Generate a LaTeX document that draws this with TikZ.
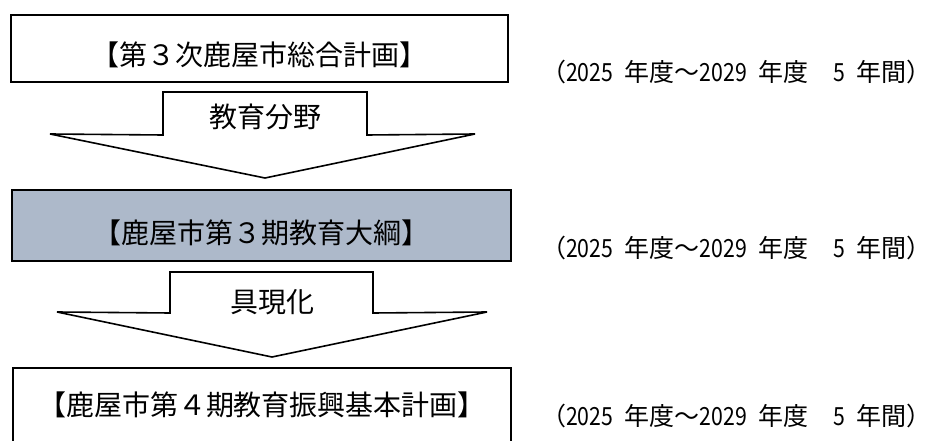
\documentclass[tikz,border=0pt]{standalone}
\usepackage{fontspec}
\setmainfont{Noto Sans CJK JP}
\newfontfamily\narrowdigits[FakeStretch=0.85]{Noto Sans CJK JP}
\definecolor{boxfill}{HTML}{ADB9CA}
\begin{document}
\begin{tikzpicture}[x=1pt,y=-1pt,
  frame/.style={draw=black, line width=2pt, inner sep=0pt},
  blockarrow/.style={draw=black, line width=1.6pt, fill=white, line join=miter},
  maintext/.style={inner sep=0pt, font=\fontsize{28}{30}\selectfont},
  arrowtext/.style={inner sep=0pt, font=\fontsize{28}{30}\selectfont},
  periodtext/.style={inner sep=0pt, anchor=west, font=\fontsize{25}{28}\selectfont},
]
\useasboundingbox (0,0) rectangle (930,441);
\begin{scope}
\clip (0,0) rectangle (930,441);
% boxes
\draw[frame] (11,15) rectangle (508,82);
\node[maintext] (t1) at (259.5,55) {【第３次鹿屋市総合計画】};
\draw[frame, fill=boxfill] (12,190) rectangle (511,261);
\node[maintext] (t2) at (261.5,233) {【鹿屋市第３期教育大綱】};
\draw[frame] (13,368) rectangle (511,470);
\node[maintext] (t3) at (262,405) {【鹿屋市第４期教育振興基本計画】};
% block arrows
\draw[blockarrow] (163,92) -- (367,92) -- (367,135) -- (475,134) -- (265,178) -- (50,134) -- (163,135) -- cycle;
\node[arrowtext] (a1) at (265,117) {教育分野};
\draw[blockarrow] (170,272) -- (373,272) -- (373,313) -- (487,312) -- (272,357) -- (57,312) -- (170,313) -- cycle;
\node[arrowtext] (a2) at (272,302) {具現化};
\end{scope}
% period labels
\newcommand{\periodline}{（{\narrowdigits 2025}\hspace{0.45em}年度～{\narrowdigits 2029}\hspace{0.45em}年度\hspace{1em}{\narrowdigits 5}\hspace{0.45em}年間）}
\node[periodtext] (p1) at (541,72) {\periodline};
\node[periodtext] (p2) at (541,248) {\periodline};
\node[periodtext] (p3) at (541,416) {\periodline};
\end{tikzpicture}
\end{document}
